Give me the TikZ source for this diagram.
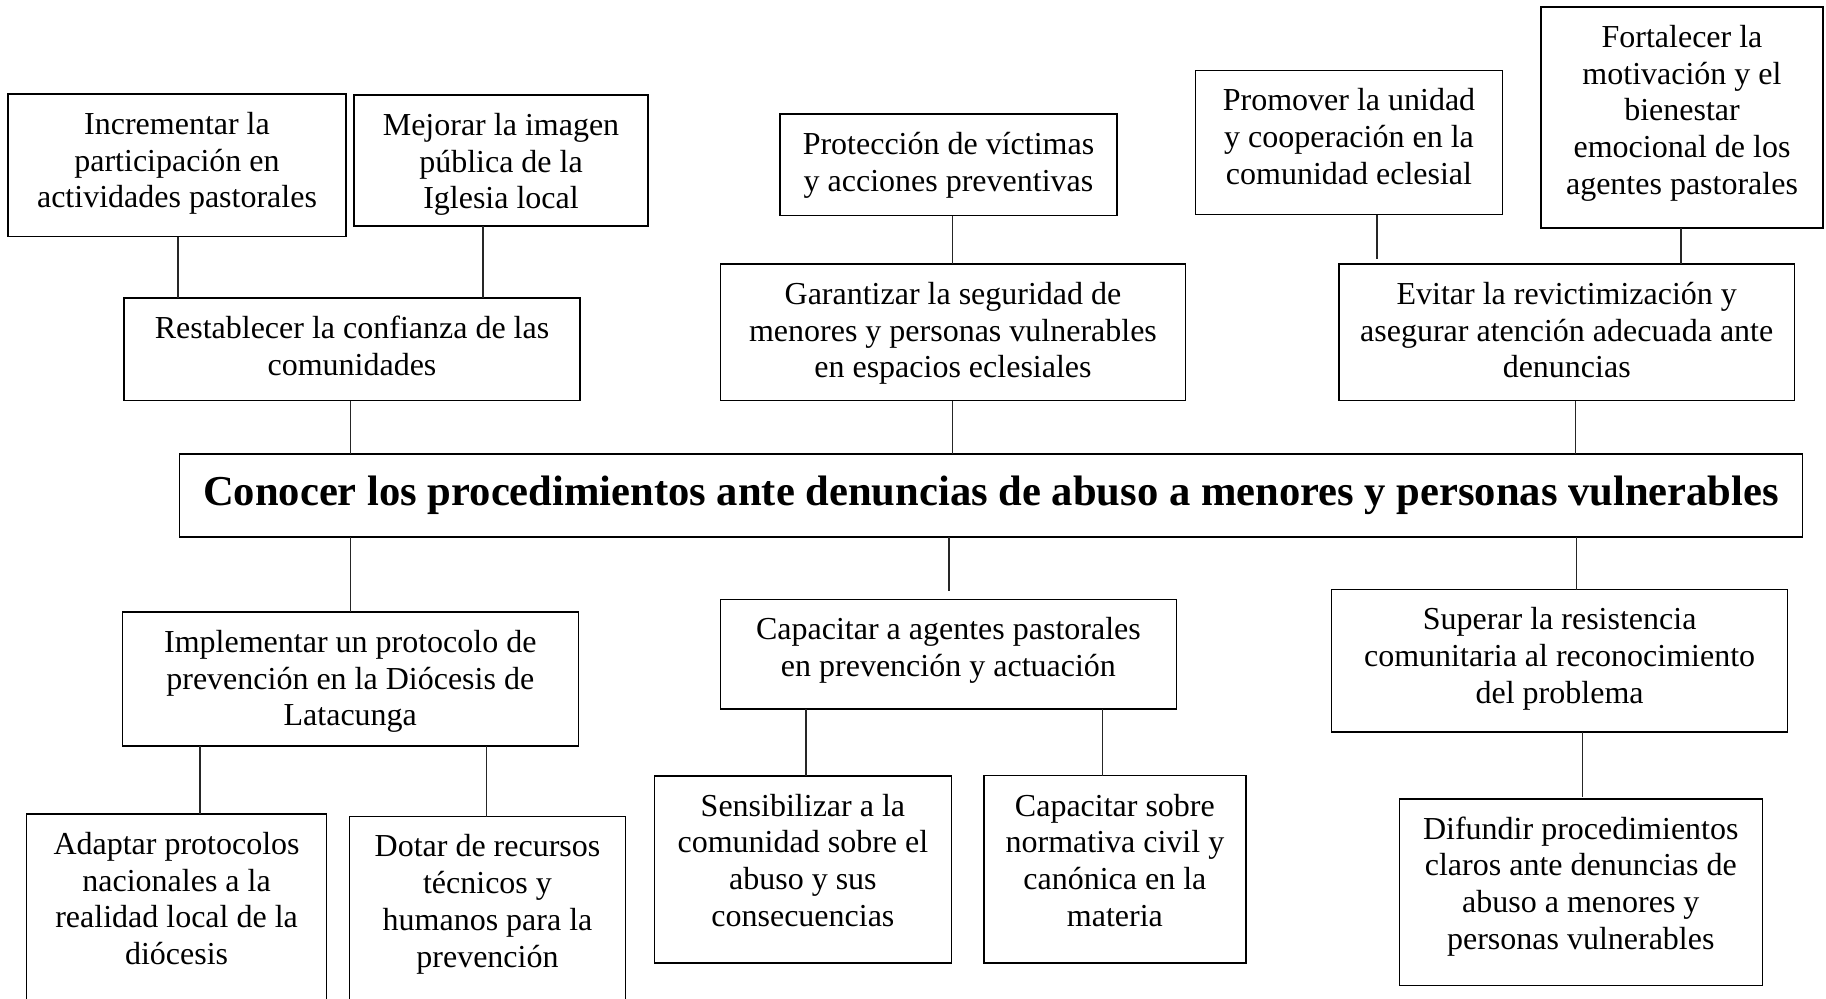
\documentclass[tikz,border=0pt]{standalone}
\usepackage{fontspec}
\setmainfont{Liberation Serif}
\tikzset{
  bx/.style={draw=black, line width=0.75pt, inner sep=0pt, outer sep=0pt, fill=white},
  conn/.style={draw=black!85, line width=0.6pt},
}
\newcommand{\obox}[6]{%
  \pgfmathsetlengthmacro\obw{(#4-#2)*0.5}%
  \pgfmathsetlengthmacro\obh{(#5-#3)*0.5}%
  \node[bx, anchor=north west] (#1) at (#2,#3) {\begin{minipage}[t][\obh][t]{\obw}\fontsize{16}{18.4}\selectfont\centering\vspace*{7.3pt}\strut #6\end{minipage}};%
}
\begin{document}
\begin{tikzpicture}[x=0.5pt,y=-0.5pt]
\useasboundingbox (0,0) rectangle (1826,998);
\fill[white] (0,0) rectangle (1826,998);
% top row
\obox{A}{8}{94}{346}{236.5}{Incrementar la\\ participación en\\ actividades pastorales}
\obox{B}{354}{95}{648}{226}{Mejorar la imagen\\ pública de la\\ Iglesia local}
\obox{C}{124}{298}{580}{400.6}{Restablecer la confianza de las\\ comunidades}
\obox{D}{780}{114}{1117}{215.5}{Protección de víctimas\\ y acciones preventivas}
\obox{E}{720.5}{264}{1185.5}{400.5}{Garantizar la seguridad de\\ menores y personas vulnerables\\ en espacios eclesiales}
\obox{F}{1195.5}{70.5}{1502.5}{214.5}{Promover la unidad\\ y cooperación en la\\ comunidad eclesial}
\obox{G}{1541}{7}{1823}{228}{Fortalecer la\\ motivación y el\\ bienestar\\ emocional de los\\ agentes pastorales}
\obox{H}{1339}{264}{1794.5}{400.5}{Evitar la revictimización y\\ asegurar atención adecuada ante\\ denuncias}
% main
\node[bx, anchor=north west, minimum width=811.5pt, minimum height=41.5pt,
      font=\fontsize{21.3}{24}\selectfont\bfseries] (M) at (179.5,454)
  {Conocer los procedimientos ante denuncias de abuso a menores y personas vulnerables};
% bottom row
\obox{I}{122.3}{612}{578.3}{746}{Implementar un protocolo de\\ prevención en la Diócesis de\\ Latacunga}
\obox{J}{720.5}{599.6}{1176.4}{709.2}{Capacitar a agentes pastorales\\ en prevención y actuación}
\obox{K}{1331.5}{589.5}{1787.7}{731.8}{Superar la resistencia\\ comunitaria al reconocimiento\\ del problema}
\obox{L}{654.4}{775.8}{951.4}{963}{Sensibilizar a la\\ comunidad sobre el\\ abuso y sus\\ consecuencias}
\obox{N}{984}{775.7}{1245.8}{963}{Capacitar sobre\\ normativa civil y\\ canónica en la\\ materia}
\obox{O}{1399.3}{798.8}{1762.3}{985.7}{Difundir procedimientos\\ claros ante denuncias de\\ abuso a menores y\\ personas vulnerables}
\obox{P}{26.6}{814}{326.6}{1010}{Adaptar protocolos\\ nacionales a la\\ realidad local de la\\ diócesis}
\obox{Q}{349.5}{816.5}{625.5}{1010}{Dotar de recursos\\ técnicos y\\ humanos para la\\ prevención}
% x positions of connectors
\coordinate (xA) at (178,0);
\coordinate (xB) at (483,0);
\coordinate (xC) at (350.6,0);
\coordinate (xD) at (952.8,0);
\coordinate (xF) at (1377,0);
\coordinate (xG) at (1681,0);
\coordinate (xH) at (1575.5,0);
\coordinate (xJ) at (949,0);
\coordinate (xK) at (1576.3,0);
\coordinate (xP) at (200,0);
\coordinate (xQ) at (486.8,0);
\coordinate (xL) at (806,0);
\coordinate (xN) at (1102.6,0);
\coordinate (xO) at (1582.8,0);
% connectors
\draw[conn] (A.south -| xA) -- (C.north -| xA);
\draw[conn] (B.south -| xB) -- (C.north -| xB);
\draw[conn] (C.south -| xC) -- (M.north -| xC);
\draw[conn] (D.south -| xD) -- (E.north -| xD);
\draw[conn] (E.south -| xD) -- (M.north -| xD);
\draw[conn, shorten >=2.5pt] (F.south -| xF) -- (H.north -| xF);
\draw[conn] (G.south -| xG) -- (H.north -| xG);
\draw[conn] (H.south -| xH) -- (M.north -| xH);
\draw[conn] (M.south -| xC) -- (I.north -| xC);
\draw[conn, shorten >=4.5pt] (M.south -| xJ) -- (J.north -| xJ);
\draw[conn] (M.south -| xK) -- (K.north -| xK);
\draw[conn] (I.south -| xP) -- (P.north -| xP);
\draw[conn] (I.south -| xQ) -- (Q.north -| xQ);
\draw[conn] (J.south -| xL) -- (L.north -| xL);
\draw[conn] (J.south -| xN) -- (N.north -| xN);
\draw[conn, shorten >=1pt] (K.south -| xO) -- (O.north -| xO);
\end{tikzpicture}
\end{document}
